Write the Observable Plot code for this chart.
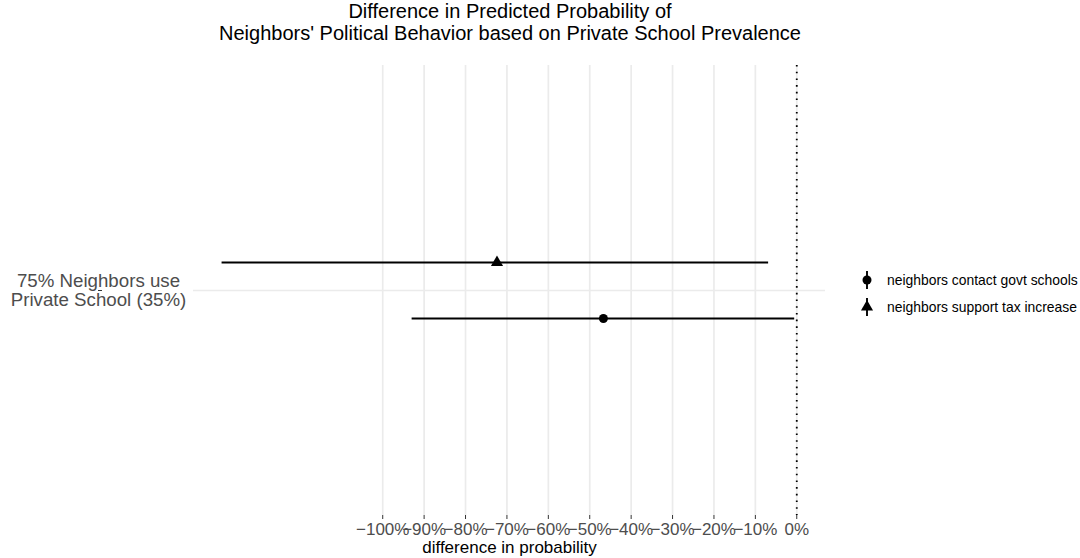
<!DOCTYPE html>
<html>
<head>
<meta charset="utf-8">
<script src="https://cdn.jsdelivr.net/npm/d3@7"></script>
<script src="https://cdn.jsdelivr.net/npm/@observablehq/plot@0.6"></script>
<style>
  html, body { margin: 0; padding: 0; background: #ffffff; }
  body { width: 1080px; height: 558px; position: relative; overflow: hidden;
         font-family: "Liberation Sans", Arial, Helvetica, sans-serif; }
  #title { height: 46px; width: 1080px; position: relative; }
  #title div { position: absolute; left: 0; width: 1020px; text-align: center;
               font-size: 20px; line-height: 22px; color: #000; }
  #legend { position: absolute; left: 856px; top: 269px; }
  .key { position: absolute; left: 0; height: 22px; display: flex; align-items: center;
         white-space: nowrap; font-size: 13.9px; color: #000; }
  .key svg { margin-right: 9px; }
</style>
</head>
<body>
<div id="title">
  <div style="top:0px">Difference in Predicted Probability of</div>
  <div style="top:22px">Neighbors' Political Behavior based on Private School Prevalence</div>
</div>
<div id="chart"></div>
<div id="legend"></div>
<script>
// Comparison group shown on the y axis
const categories = ["75% Neighbors use\nPrivate School (35%)"];

// Outcomes, with estimated difference in probability (percentage points) and interval bounds
const series = ["neighbors contact govt schools", "neighbors support tax increase"];
const estimates = [-46.7, -72.4];
const lowerBounds = [-92.9, -138.8];
const upperBounds = [-0.5, -6.8];

// x axis ticks
const xTicks = [-100, -90, -80, -70, -60, -50, -40, -30, -20, -10, 0];

const rows = series.map((s, i) => ({
  category: categories[0],
  series: s,
  estimate: estimates[i],
  lower: lowerBounds[i],
  upper: upperBounds[i]
}));

const pct = d => d3.format("d")(d) + "%";
const symbolFor = {"neighbors contact govt schools": "circle", "neighbors support tax increase": "triangle"};

const chart = Plot.plot({
  width: 1080,
  height: 512,
  marginTop: 19,
  marginBottom: 43,
  marginLeft: 193,
  marginRight: 255,
  style: {fontFamily: "Liberation Sans, Arial, Helvetica, sans-serif", background: "#ffffff"},
  x: {domain: [-145.7, 6.94], axis: null},
  y: {type: "point", domain: [series[1], series[0]], padding: 3.48, axis: null},
  fy: {domain: categories, padding: 0, axis: null},
  symbol: {domain: series, range: series.map(s => symbolFor[s])},
  marks: [
    Plot.gridX({ticks: xTicks, stroke: "#ebebeb", strokeOpacity: 1, strokeWidth: 1.7}),
    Plot.gridFy({stroke: "#ebebeb", strokeOpacity: 1, strokeWidth: 1.7}),
    Plot.axisFy({
      anchor: "left", tickSize: 4, tickPadding: 0, stroke: "#333333",
      textAnchor: "middle", dx: -91, fontSize: 18.7, lineHeight: 1.03,
      fill: "#4d4d4d", label: null
    }),
    Plot.axisX({
      ticks: xTicks, tickFormat: pct, tickSize: 4, tickPadding: 3,
      stroke: "#333333", fill: "#4d4d4d", fontSize: 17, label: null
    }),
    Plot.text(["difference in probability"], {
      frameAnchor: "bottom", dy: 37, fontSize: 17, fill: "#000000"
    }),
    Plot.ruleX([0], {stroke: "#000000", strokeWidth: 1.8, strokeDasharray: "1.6,5.1"}),
    Plot.ruleY(rows, {
      y: "series", fy: "category", x1: "lower", x2: "upper",
      stroke: "#000000", strokeWidth: 1.9
    }),
    Plot.dot(rows, {
      x: "estimate", y: "series", fy: "category", symbol: "series",
      r: 4.5, fill: "#000000", stroke: "none"
    })
  ]
});
document.getElementById("chart").appendChild(chart);

// Legend: point-range key glyphs with labels
const legend = d3.select("#legend");
series.forEach((s, i) => {
  const key = legend.append("div").attr("class", "key").style("top", (i * 27) + "px");
  const svg = key.append("svg").attr("width", 22).attr("height", 22);
  svg.append("line").attr("x1", 11).attr("x2", 11).attr("y1", 2).attr("y2", 20)
    .attr("stroke", "#000").attr("stroke-width", 1.9);
  svg.append("path").attr("transform", "translate(11,11)")
    .attr("d", d3.symbol(symbolFor[s] === "circle" ? d3.symbolCircle : d3.symbolTriangle, Math.PI * 4.5 * 4.5)())
    .attr("fill", "#000");
  key.append("span").text(s);
});
</script>
</body>
</html>
